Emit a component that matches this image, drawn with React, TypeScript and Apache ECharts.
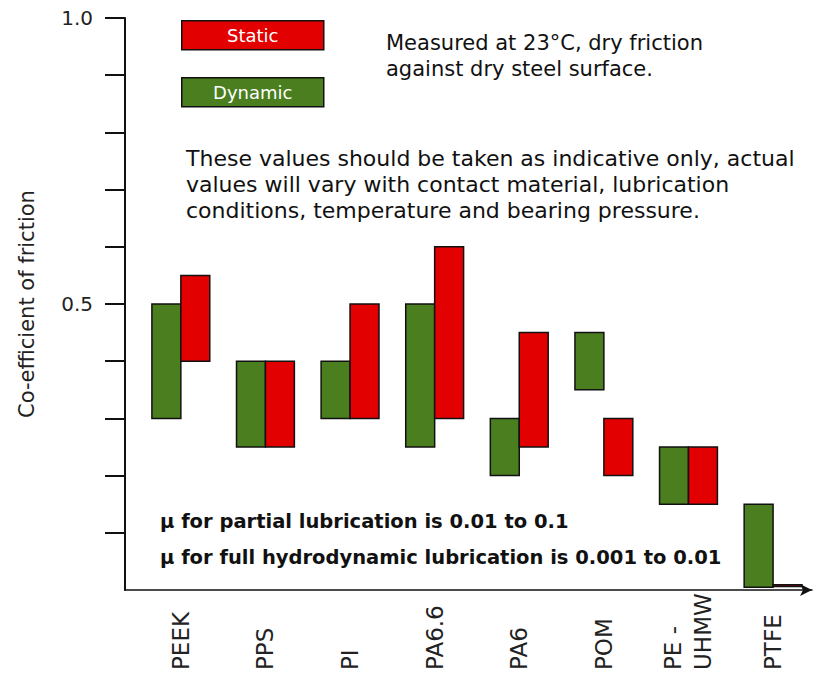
import React, { useEffect, useRef } from "react";
import * as echarts from "echarts";

const categories = ["PEEK", "PPS", "PI", "PA6.6", "PA6", "POM", "PE -\nUHMW", "PTFE"];
const dynamicLow = [0.3, 0.25, 0.3, 0.25, 0.2, 0.35, 0.15, 0.005];
const dynamicHigh = [0.5, 0.4, 0.4, 0.5, 0.3, 0.45, 0.25, 0.15];
const staticLow = [0.4, 0.25, 0.3, 0.3, 0.25, 0.2, 0.15, 0.006];
const staticHigh = [0.55, 0.4, 0.5, 0.6, 0.45, 0.3, 0.25, 0.009];
const yTickValues = [0.1, 0.2, 0.3, 0.4, 0.5, 0.6, 0.7, 0.8, 0.9, 1.0];
const yLabelValues = [0.5, 1.0];

const RED = "#e20000";
const GREEN = "#4a7e1f";
const FONT = '"DejaVu Sans", sans-serif';

function makeRender(side: "left" | "right", fill: string) {
  return (params: any, api: any) => {
    const x = api.value(0);
    const lo = api.value(1);
    const hi = api.value(2);
    const pHi = api.coord([x, hi]);
    const pLo = api.coord([x, lo]);
    const w = api.size([1, 0])[0] * 0.342;
    const left = side === "left" ? pHi[0] - w : pHi[0];
    return {
      type: "rect",
      shape: { x: left, y: pHi[1], width: w, height: pLo[1] - pHi[1] },
      style: { fill, stroke: "#111", lineWidth: 1.5 },
    };
  };
}

export default function App() {
  const ref = useRef<HTMLDivElement>(null);
  useEffect(() => {
    if (!ref.current) return;
    const chart = echarts.init(ref.current, null, { renderer: "svg" });
    const option: any = {
      animation: false,
      backgroundColor: "#ffffff",
      grid: {
        left: 125,
        right: 8,
        top: 18,
        bottom: 85,
        containLabel: false,
        outerBoundsMode: "none",
      },
      xAxis: {
        type: "value",
        min: -0.66,
        max: 7.46,
        axisLine: {
          show: true,
          onZero: false,
          symbol: ["none", "arrow"],
          symbolSize: [9, 12],
          lineStyle: { color: "#111", width: 1.5 },
        },
        axisTick: { show: false },
        splitLine: { show: false },
        axisLabel: {
          customValues: categories.map((_, i) => i),
          formatter: (v: number) => categories[Math.round(v)] ?? "",
          rotate: 90,
          align: "left",
          verticalAlign: "middle",
          margin: 80,
          fontSize: 23,
          lineHeight: 30,
          fontFamily: FONT,
          color: "#222",
        },
      },
      yAxis: {
        type: "value",
        min: 0,
        max: 1,
        interval: 0.1,
        name: "Co-efficient of friction",
        nameLocation: "middle",
        nameGap: 88,
        nameTextStyle: { fontSize: 21, fontFamily: FONT, color: "#222" },
        axisLine: { show: true, onZero: false, lineStyle: { color: "#111", width: 2 } },
        axisTick: {
          show: true,
          length: 20,
          customValues: yTickValues,
          lineStyle: { color: "#111", width: 2 },
        },
        splitLine: { show: false },
        axisLabel: {
          customValues: yLabelValues,
          formatter: (v: number) => v.toFixed(1),
          margin: 32,
          fontSize: 20,
          fontFamily: FONT,
          color: "#222",
        },
      },
      series: [
        {
          name: "Dynamic",
          type: "custom",
          renderItem: makeRender("left", GREEN),
          encode: { x: 0, y: [1, 2] },
          data: categories.map((_, i) => [i, dynamicLow[i], dynamicHigh[i]]),
        },
        {
          name: "Static",
          type: "custom",
          renderItem: makeRender("right", RED),
          encode: { x: 0, y: [1, 2] },
          data: categories.map((_, i) => [i, staticLow[i], staticHigh[i]]),
        },
      ],
      graphic: [
        {
          type: "group",
          left: 181,
          top: 20,
          children: [
            {
              type: "rect",
              shape: { x: 0, y: 0, width: 142, height: 29 },
              style: { fill: RED, stroke: "#111", lineWidth: 1.5 },
            },
            {
              type: "text",
              x: 71,
              y: 14.5,
              style: {
                text: "Static",
                fill: "#fff",
                font: `18px ${FONT}`,
                align: "center",
                verticalAlign: "middle",
              },
            },
          ],
        },
        {
          type: "group",
          left: 181,
          top: 77,
          children: [
            {
              type: "rect",
              shape: { x: 0, y: 0, width: 142, height: 29 },
              style: { fill: GREEN, stroke: "#111", lineWidth: 1.5 },
            },
            {
              type: "text",
              x: 71,
              y: 14.5,
              style: {
                text: "Dynamic",
                fill: "#fff",
                font: `18px ${FONT}`,
                align: "center",
                verticalAlign: "middle",
              },
            },
          ],
        },
        {
          type: "text",
          left: 386,
          top: 30,
          style: {
            text: "Measured at 23°C, dry friction\nagainst dry steel surface.",
            font: `21px ${FONT}`,
            lineHeight: 26,
            fill: "#111",
          },
        },
        {
          type: "text",
          left: 186,
          top: 145,
          style: {
            text:
              "These values should be taken as indicative only, actual\nvalues will vary with contact material, lubrication\nconditions, temperature and bearing pressure.",
            font: `22px ${FONT}`,
            lineHeight: 26,
            fill: "#111",
          },
        },
        {
          type: "text",
          left: 160,
          top: 503,
          style: {
            text:
              "μ for partial lubrication is 0.01 to 0.1\nμ for full hydrodynamic lubrication is 0.001 to 0.01",
            font: `bold 19.5px ${FONT}`,
            lineHeight: 36.5,
            fill: "#111",
          },
        },
      ],
    };
    chart.setOption(option);
    return () => chart.dispose();
  }, []);
  return (
    <div
      ref={ref}
      style={{ position: "absolute", left: 0, top: 0, width: 820, height: 675 }}
    />
  );
}
